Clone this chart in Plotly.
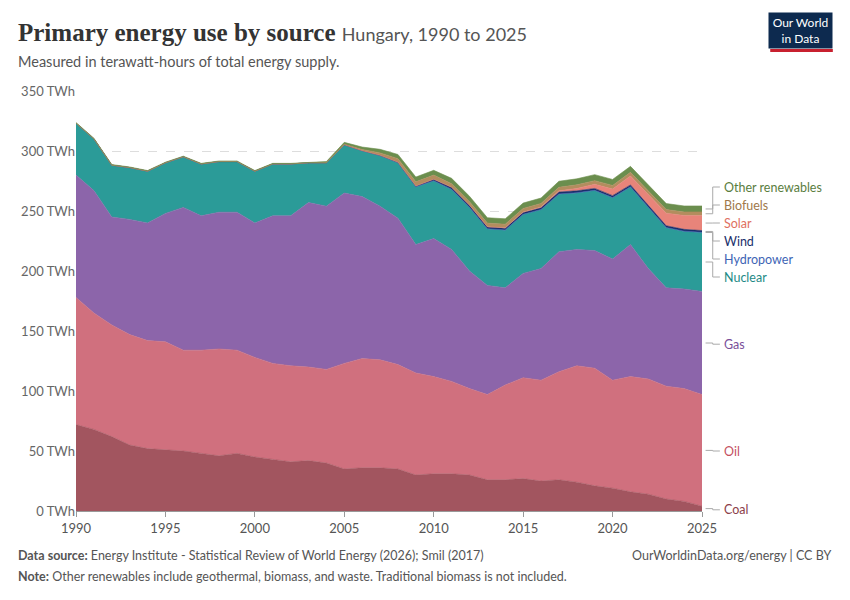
import plotly.graph_objects as go

years = list(range(1990, 2026))
coal_top = [72,68,62,55,52,51,50,48,46,48,45,43,41,42,40,35,36,36,35,30,31,31,30,26,26,27,25,26,24,21,19,16,14,10,8,4]
oil_top = [178,165,155,147,142,141,134,134,135,134,128,123,121,120,118,123,127,126,122,115,112,108,102,97,105,111,109,116,121,119,109,112,110,104,102,97]
gas_top = [280,267,245,243,240,248,253,246,249,249,240,246,246,257,254,265,262,254,244,222,227,218,200,188,186,198,202,216,218,217,210,222,202,186,185,183]
nuc_top = [323,310,288,286,283,290,295,289,291,291,283,289,289,290,290,305,300,296,290,270,275,268,253,235,234,247,251,264,265,267,261,270,253,236,233,232]
hydro = [0.2]*36
wind = [0]*16 + [0.1,0.2,0.4,0.6,1.2,1.5,1.5,1.5,1.5,1.5,1.5,1.6,1.6,1.6,1.6,1.5,1.5,1.5,1.5,1.5]
solar = [0]*22 + [0.1,0.2,0.3,0.4,0.6,1.0,2.0,3.5,5.5,7.5,9.0,10.5,11.5,12.5]
biofuels = [0]*15 + [0.5,1.0,2.0,3.0,3.5,3.5,3.0,3.0,3.0,3.0,3.0,3.0,3.0,3.0,3.0,3.0,3.0,3.0,3.0,3.0,3.0]
other = [0.5]*14 + [1,1.5,2,3,3.5,4,4,4.5,4.5,4.5,4.5,4.5,4.5,5,5,5,5,5,5,5,5,5]

coal = coal_top
oil = [o - c for o, c in zip(oil_top, coal_top)]
gas = [g - o for g, o in zip(gas_top, oil_top)]
nuclear = [n - g for n, g in zip(nuc_top, gas_top)]

series = [
    ("Coal", coal, "#a2555f"),
    ("Oil", oil, "#d0707e"),
    ("Gas", gas, "#8c65aa"),
    ("Nuclear", nuclear, "#2b9b98"),
    ("Hydropower", hydro, "#3e64b5"),
    ("Wind", wind, "#1a2f6b"),
    ("Solar", solar, "#e8847a"),
    ("Biofuels", biofuels, "#b38d5e"),
    ("Other renewables", other, "#6b8e4e"),
]
label_colors = {"Coal": "#8c3e4a", "Oil": "#c4505f", "Gas": "#7a4e9a", "Nuclear": "#1e8a86",
                "Hydropower": "#3e64b5", "Wind": "#1a2f6b", "Solar": "#e0705f",
                "Biofuels": "#a0784a", "Other renewables": "#5a7d3e"}
label_y = {"Coal": 1, "Oil": 50, "Gas": 139, "Nuclear": 195, "Hydropower": 210, "Wind": 225,
           "Solar": 240, "Biofuels": 255, "Other renewables": 270}

def px(year):
    return (year - 1990) / 35

fig = go.Figure()
cum = [0]*36
for name, vals, col in series:
    cum = [a + b for a, b in zip(cum, vals)]
    fig.add_trace(go.Scatter(x=years, y=vals, name=name, stackgroup="one", mode="lines",
                             line=dict(width=0.6, color=col), fillcolor=col))
    mid = cum[-1] - vals[-1] / 2
    ly = label_y[name]
    fig.add_shape(type="path", xref="paper", yref="y",
                  path=f"M {px(2025.2)},{mid} L {px(2025.6)},{mid} L {px(2025.6)},{ly} L {px(2026.0)},{ly}",
                  line=dict(color="#aaa", width=1))
    fig.add_annotation(xref="paper", x=px(2026.1), y=ly, text=name, showarrow=False, xanchor="left",
                       font=dict(size=12.5, color=label_colors[name], family="Lato"))

fig.update_layout(
    width=850, height=600, paper_bgcolor="white", plot_bgcolor="white",
    margin=dict(l=76, r=148, t=91, b=89), showlegend=False,
    font=dict(family="Lato", color="#555"),
    xaxis=dict(range=[1990, 2025], tickvals=[1990, 1995, 2000, 2005, 2010, 2015, 2020, 2025],
               showgrid=False, ticks="outside", ticklen=5, tickcolor="#999", showline=True,
               linecolor="#999", tickfont=dict(size=13, color="#555")),
    yaxis=dict(range=[0, 350], tickvals=[0, 50, 100, 150, 200, 250, 300, 350],
               ticktext=[f"{v} TWh" for v in [0, 50, 100, 150, 200, 250, 300, 350]],
               showgrid=True, gridcolor="#ddd", griddash="dash", zeroline=False,
               tickfont=dict(size=13, color="#666"), ticklabelstandoff=0),
)
fig.add_annotation(xref="paper", yref="paper", x=-0.096, y=1.14, xanchor="left", yanchor="middle",
                   showarrow=False,
                   text="<b>Primary energy use by source</b> <span style='font-size:18px;color:#555;font-family:Lato'>Hungary, 1990 to 2025</span>",
                   font=dict(family="Liberation Serif", size=25, color="#333"))
fig.add_annotation(xref="paper", yref="paper", x=-0.096, y=1.071, xanchor="left", yanchor="middle",
                   showarrow=False, text="Measured in terawatt-hours of total energy supply.",
                   font=dict(size=14.5, color="#555"))
fig.add_annotation(xref="paper", yref="paper", x=-0.096, y=-0.105, xanchor="left", yanchor="middle",
                   showarrow=False,
                   text="<b>Data source:</b> Energy Institute - Statistical Review of World Energy (2026); Smil (2017)",
                   font=dict(size=12.5, color="#555"))
fig.add_annotation(xref="paper", yref="paper", x=-0.096, y=-0.157, xanchor="left", yanchor="middle",
                   showarrow=False,
                   text="<b>Note:</b> Other renewables include geothermal, biomass, and waste. Traditional biomass is not included.",
                   font=dict(size=12.5, color="#555"))
fig.add_annotation(xref="paper", yref="paper", x=1.209, y=-0.105, xanchor="right", yanchor="middle",
                   showarrow=False, text="OurWorldinData.org/energy | CC BY",
                   font=dict(size=12.5, color="#555"))
fig.add_annotation(xref="paper", yref="paper", x=1.209, y=1.100, xanchor="right", yanchor="bottom",
                   showarrow=False, text="Our World<br>in Data", width=59, height=31, borderpad=2,
                   align="center", valign="middle", bgcolor="#0d2a4f",
                   font=dict(size=12, color="white"))
fig.add_shape(type="rect", xref="paper", yref="paper", x0=1.109, x1=1.209, y0=1.093, y1=1.100,
              fillcolor="#c8202f", line=dict(width=0))
fig.write_html("out.html", config={"displayModeBar": False})
with open("out.html") as f:
    html = f.read()
html = html.replace("<head>", "<head><style>html,body{margin:0;padding:0;overflow:hidden}</style>", 1)
with open("out.html", "w") as f:
    f.write(html)
